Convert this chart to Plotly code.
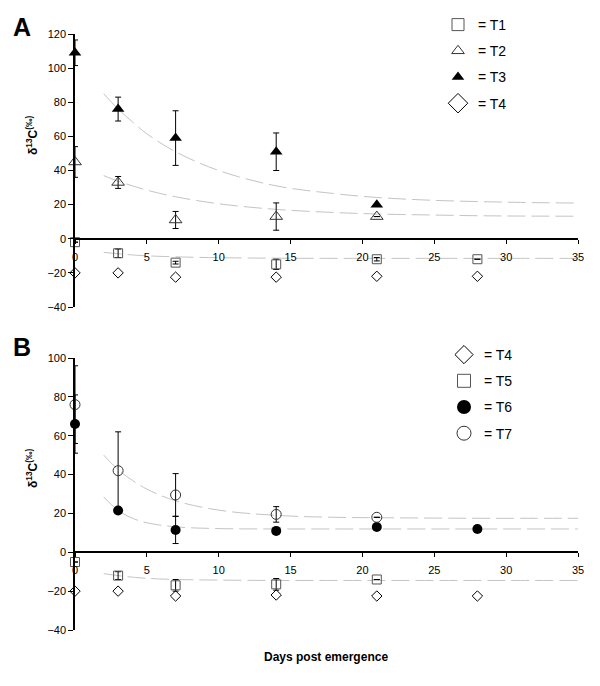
import plotly.graph_objects as go

# ---------------- data ----------------
days = [0, 3, 7, 14, 21, 28]

# Panel A
t1_y = [-2, -8.5, -14, -15, -12, -12]
t1_err = [None, 2.5, 0.8, 3, 1, None]
t2_days = [0, 3, 7, 14, 21]
t2_y = [45, 33, 11, 13, 13]
t2_err = [9, 3.5, 5, 8, None]
t3_days = [0, 3, 7, 14, 21]
t3_y = [109, 76, 59, 51, 20]
t3_err = [7.5, 7, 16, 11, None]
t4a_y = [-20, -20, -22.5, -22.5, -22, -22]

# Panel B
t4b_y = [-20, -20, -22.5, -22, -22.5, -22.5]
t5_days = [0, 3, 7, 14, 21]
t5_y = [-5, -12, -17, -16.5, -14]
t5_err = [None, 2, 3, 3, None]
t6_y = [66, 21.5, 11.5, 11, 13, 12]
t6_err = [15, None, 7, None, None, None]
t7_days = [0, 3, 7, 14, 21]
t7_y = [76, 42, 29.5, 19.5, 18]
t7_err = [20, 20, 11, 4, None]

# fitted decay curves
fit_x = [2, 3, 4, 5, 7, 10, 14, 18, 21, 25, 28, 31, 35]
fit_t3 = [85, 76, 68.5, 61.5, 51, 40, 31, 26.5, 24.2, 22.5, 21.8, 21.3, 20.9]
fit_t2 = [37, 33.7, 31, 28.5, 24.6, 20.5, 17.2, 15.4, 14.5, 13.9, 13.5, 13.3, 13.2]
fit_t1 = [-8, -8.8, -9.5, -10, -10.6, -11.1, -11.4, -11.5, -11.5, -11.5, -11.5, -11.5, -11.5]
fit_t7 = [50, 42.5, 37, 32.5, 26.5, 21.7, 19, 18, 17.8, 17.6, 17.5, 17.5, 17.5]
fit_t6 = [28.5, 21.5, 17.5, 15.2, 13.1, 12.2, 12, 12, 12, 12, 12, 12, 12]
fit_t5 = [-11, -12, -12.8, -13.4, -14, -14.3, -14.5, -14.5, -14.5, -14.5, -14.5, -14.5, -14.5]

x_ticks = [0, 5, 10, 15, 20, 25, 30, 35]
ya_range = [-40, 120]
yb_range = [-40, 100]
legend_a = ["= T1", "= T2", "= T3", "= T4"]
legend_b = ["= T4", "= T5", "= T6", "= T7"]

# ---------------- layout geometry ----------------
W, H = 600, 686
L, R, T, B = 75, 22, 34, 56
PW, PH = W - L - R, H - T - B


def px2x(px):
    return (px - L) / PW


def py2y(py):
    return (H - B - py) / PH


dom_a = [py2y(307), 1.0]
dom_b = [0.0, py2y(358)]


def zero_pos(dom, rng):
    return dom[0] + (0 - rng[0]) / (rng[1] - rng[0]) * (dom[1] - dom[0])


FONT = "Liberation Sans, Arial, sans-serif"
CURVE = dict(color="#c4c4c4", width=1, dash="18px,6px")

# marker styles
SQ = dict(symbol="square-open", color="#555555", line=dict(width=1))
TRI_O = dict(symbol="triangle-up-open", color="#333333", line=dict(width=1))
TRI_F = dict(symbol="triangle-up", color="black")
DIA = dict(symbol="diamond-open", color="black", line=dict(width=1))
CIR_F = dict(symbol="circle", color="black")
CIR_O = dict(symbol="circle-open", color="#333333", line=dict(width=1))

fig = go.Figure()


def err(arr):
    return dict(type="data", array=arr, color="black", thickness=1, width=3, visible=True)


def curve(y, xa, ya):
    fig.add_trace(go.Scatter(x=fit_x, y=y, mode="lines", line=CURVE, line_shape="spline",
                             xaxis=xa, yaxis=ya, showlegend=False, hoverinfo="skip"))


def pts(x, y, e, style, size, xa, ya):
    fig.add_trace(go.Scatter(x=x, y=y, error_y=err(e) if e else None, mode="markers",
                             marker=dict(style, size=size), xaxis=xa, yaxis=ya,
                             showlegend=False, cliponaxis=False))


def leg_entry(name, style, size, legend, group):
    # legend-only entry (no data points) so the key symbol can be drawn larger
    fig.add_trace(go.Scatter(x=[None], y=[None], mode="markers", name=name,
                             marker=dict(style, size=size), legend=legend, legendgroup=group,
                             showlegend=True, xaxis="x", yaxis="y"))


# curves
curve(fit_t3, "x", "y")
curve(fit_t2, "x", "y")
curve(fit_t1, "x", "y")
curve(fit_t7, "x2", "y2")
curve(fit_t6, "x2", "y2")
curve(fit_t5, "x2", "y2")

# Panel A points
pts(days, t1_y, t1_err, SQ, 9, "x", "y")
pts(t2_days, t2_y, t2_err, TRI_O, 11, "x", "y")
pts(t3_days, t3_y, t3_err, TRI_F, 11, "x", "y")
pts(days, t4a_y, None, DIA, 8, "x", "y")
# Panel B points
pts(days, t4b_y, None, DIA, 8, "x2", "y2")
pts(t5_days, t5_y, t5_err, SQ, 9, "x2", "y2")
pts(days, t6_y, t6_err, CIR_F, 10, "x2", "y2")
pts(t7_days, t7_y, t7_err, CIR_O, 10, "x2", "y2")

# legends
leg_entry(legend_a[0], SQ, 12, "legend", "a1")
leg_entry(legend_a[1], TRI_O, 11, "legend", "a2")
leg_entry(legend_a[2], TRI_F, 11, "legend", "a3")
leg_entry(legend_a[3], DIA, 15, "legend", "a4")
leg_entry(legend_b[0], DIA, 14, "legend2", "b4")
leg_entry(legend_b[1], SQ, 13, "legend2", "b5")
leg_entry(legend_b[2], CIR_F, 14, "legend2", "b6")
leg_entry(legend_b[3], CIR_O, 14, "legend2", "b7")

xax = dict(range=[0, 35], tickvals=x_ticks, showgrid=False, zeroline=False, showline=True,
           linecolor="black", linewidth=1.5, ticks="outside", ticklen=4, tickcolor="black",
           ticklabelstandoff=4,
           tickfont=dict(family=FONT, size=11, color="black"), anchor="free", domain=[0, 1])
yax = dict(dtick=20, showgrid=False, zeroline=False, showline=True, linecolor="black",
           linewidth=1.5, ticks="outside", ticklen=5, tickcolor="black",
           tickfont=dict(family=FONT, size=11, color="black"))

leg = dict(xref="container", yref="container", xanchor="left", yanchor="top",
           font=dict(family=FONT, size=14, color="black"), bgcolor="rgba(0,0,0,0)",
           tracegroupgap=5, itemwidth=30)


def ann(text, px, py, size, angle=0):
    return dict(text=text, x=px2x(px), y=py2y(py), xref="paper", yref="paper", showarrow=False,
                xanchor="center", yanchor="middle", textangle=angle,
                font=dict(family=FONT, size=size, color="black"))


fig.update_layout(
    width=W, height=H, margin=dict(l=L, r=R, t=T, b=B, autoexpand=False),
    plot_bgcolor="white", paper_bgcolor="white",
    xaxis=dict(xax, position=zero_pos(dom_a, ya_range)),
    yaxis=dict(yax, range=ya_range, domain=dom_a, anchor="x"),
    xaxis2=dict(xax, position=zero_pos(dom_b, yb_range)),
    yaxis2=dict(yax, range=yb_range, domain=dom_b, anchor="x2"),
    legend=dict(leg, x=438 / W, y=1 - 9 / H),
    legend2=dict(leg, x=444 / W, y=1 - 339 / H),
    showlegend=True,
    annotations=[
        ann("<b>A</b>", 22, 27, 25),
        ann("<b>B</b>", 22, 347, 25),
        ann("<b>δ<sup>13</sup>C<sup>(‰)</sup></b>", 32, 136, 12, -90),
        ann("<b>δ<sup>13</sup>C<sup>(‰)</sup></b>", 32, 469, 12, -90),
        ann("<b>Days post emergence</b>", 326, 657, 12),
    ],
)

fig.write_html("out.html", config={"displayModeBar": False},
               post_script="document.body.style.margin='0px';")
